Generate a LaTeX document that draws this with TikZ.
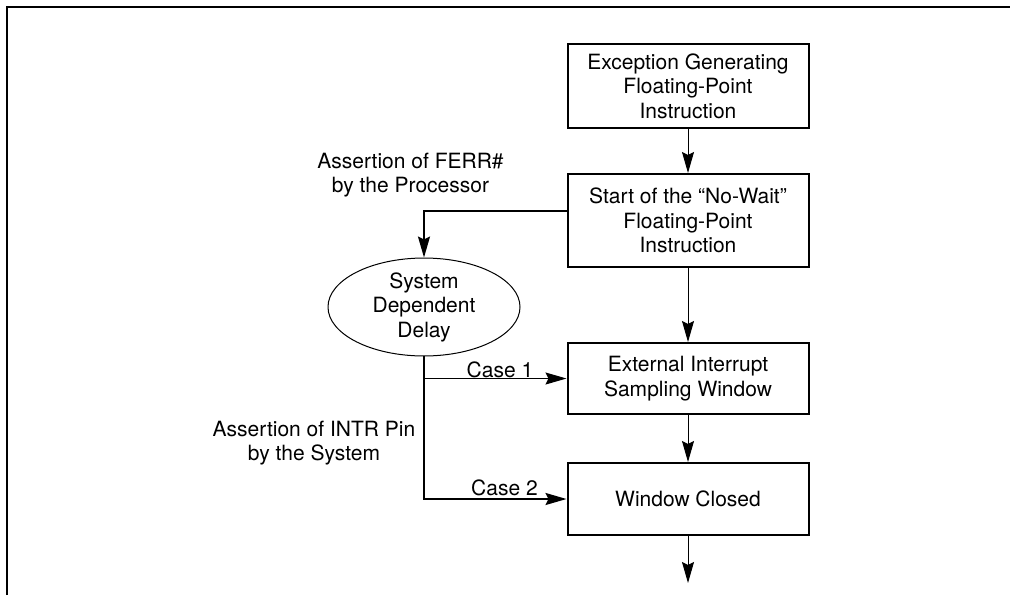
\documentclass[tikz,border=0pt]{standalone}
\usepackage{fontspec}
\setmainfont{TeX Gyre Heros}
\usetikzlibrary{arrows.meta, positioning, calc, shapes.geometric}

\begin{document}
\begin{tikzpicture}[x=1pt, y=-1pt,
    >={Stealth[length=21pt, width=12pt, inset=3pt]},
    every node/.style={font=\fontsize{21}{24.5}\selectfont, align=center},
    box/.style={draw, line width=2pt, minimum width=241pt, inner sep=0pt},
    delaynode/.style={draw, ellipse, line width=1pt, minimum width=192pt, minimum height=96pt, inner sep=0pt},
    thin flow/.style={->, line width=1pt},
    heavy flow/.style={->, line width=2pt}]
    \useasboundingbox (0,0) rectangle (1010,595);
    % frame
    \draw[line width=2.5pt] (7,595) -- (7,7) -- (1010,7);

    % boxes on the right
    \node[box, minimum height=84pt] (except) at (688,86) {Exception Generating\\Floating-Point\\Instruction};
    \node[box, minimum height=93pt] (nowait) at (688,220.5) {Start of the “No-Wait”\\Floating-Point\\Instruction};
    \node[box, minimum height=71pt] (sample) at (688,378.5) {External Interrupt\\Sampling Window};
    \node[box, minimum height=72pt] (closed) at (688,499) {Window Closed};
    \coordinate (after) at (688,583);

    % delay and labels
    \node[delaynode] (delay) at (424,307) {System\\Dependent\\Delay};
    \node (ferrlbl) at (410.5,175) {Assertion of FERR\#\\by the Processor};
    \node (intrlbl) at (314,443) {Assertion of INTR Pin\\by the System};
    \node[anchor=base] (case1) at (500,377) {Case 1};
    \node[anchor=base] (case2) at (504.5,495) {Case 2};

    \draw[thin flow] (except) -- (nowait);
    \draw[thin flow] (nowait) -- (sample);
    \draw[thin flow] (sample) -- (closed);
    \draw[thin flow] (closed) -- (after);
    \draw[heavy flow] ($(nowait.west)+(0,-9.5)$) -| (delay.north);
    \draw[heavy flow] (delay.south) |- (closed.west);
    \draw[thin flow] (delay.south |- sample.west) -- (sample.west);
\end{tikzpicture}
\end{document}
